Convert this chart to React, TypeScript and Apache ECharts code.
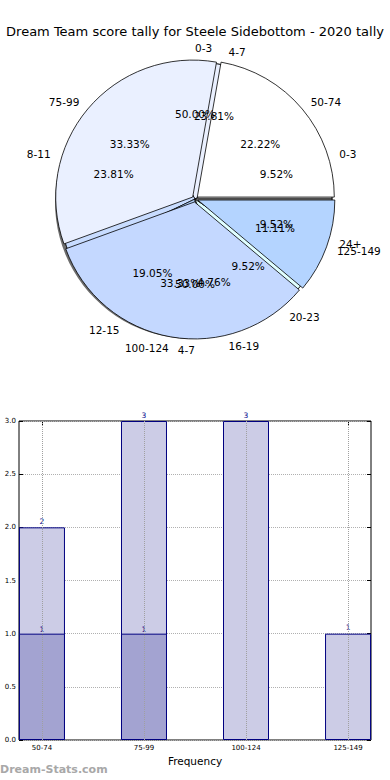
import React, { useEffect, useRef } from 'react';
import * as echarts from 'echarts';

const titleText = 'Dream Team score tally for Steele Sidebottom - 2020 tally';
const scoreCategories = ['50-74', '75-99', '100-124', '125-149'];
const scoreCounts = [2, 3, 3, 1];
const scoreColors = ['#ffffff', '#eaf0ff', '#c4d8ff', '#b4d4ff'];
const metricCategories = ['0-3', '4-7', '8-11', '12-15', '16-19', '20-23', '24+'];
const metricCounts = [2, 5, 5, 4, 1, 2, 2];
const metricColors = ['#d0d0d0', '#eaf0ff', '#c8dcff', '#b4d4ff', '#d4e4ff', '#e0ffff', '#c8c8c8'];
const halfCategories = ['0-3', '4-7'];
const halfCounts = [1, 1];
const halfColors = ['#ffffff', '#eaf0ff'];
const barTotals = [2, 3, 3, 1];
const barFirst = [1, 1];
const yMax = 3;
const yStep = 0.5;

const FONT = 'DejaVu Sans';
const CX = 195;
const CY = 199;
const R = 137;
const EXPLODE = 3;

function pct(v: number, list: number[]) {
  const t = list.reduce((a, b) => a + b, 0);
  return ((v / t) * 100).toFixed(2) + '%';
}

function labelSeries(names: string[], values: number[]) {
  const data = names.map((n, i) => ({ name: n, value: values[i] }));
  const base = {
    type: 'pie',
    center: [CX, CY],
    startAngle: 0,
    clockwise: false,
    silent: true,
    avoidLabelOverlap: false,
    labelLayout: { hideOverlap: false },
    z: 10,
    emphasis: { disabled: true },
    itemStyle: { color: 'rgba(0,0,0,0)', borderWidth: 0 },
  };
  return [
    {
      ...base,
      radius: [0, R],
      data,
      label: {
        show: true,
        position: 'outside',
        formatter: (p: any) => p.name,
        fontSize: 10.5,
        fontFamily: FONT,
        color: '#000',
        distanceToLabelLine: 0,
      },
      labelLine: { show: false, length: 14, length2: 0 },
    },
    {
      ...base,
      radius: [R * 0.2, R],
      data,
      label: {
        show: true,
        position: 'inside',
        formatter: (p: any) => pct(p.value, values),
        fontSize: 10.5,
        fontFamily: FONT,
        color: '#000',
        overflow: 'none',
      },
      labelLine: { show: false },
    },
  ];
}

function drawnPie(values: number[], colors: string[], names: string[]) {
  return {
    type: 'pie',
    center: [CX, CY],
    radius: [0, R],
    startAngle: 0,
    clockwise: false,
    silent: true,
    avoidLabelOverlap: false,
    emphasis: { disabled: true },
    label: { show: false },
    labelLine: { show: false },
    data: names.map((n, i) => ({
      name: n,
      value: values[i],
      itemStyle: { color: colors[i], borderColor: '#000', borderWidth: 0.8 },
    })),
  };
}

function explodedScoreSeries() {
  const total = scoreCounts.reduce((a, b) => a + b, 0);
  let cum = 0;
  return scoreCounts.map((v, k) => {
    const mid = ((cum + v / 2) / total) * 2 * Math.PI;
    cum += v;
    const cx = CX + EXPLODE * Math.cos(mid);
    const cy = CY - EXPLODE * Math.sin(mid);
    return {
      type: 'pie',
      center: [cx, cy],
      radius: [0, R],
      startAngle: 0,
      clockwise: false,
      silent: true,
      avoidLabelOverlap: false,
      emphasis: { disabled: true },
      label: { show: false },
      labelLine: { show: false },
      data: scoreCategories.map((n, i) => ({
        name: n,
        value: scoreCounts[i],
        itemStyle:
          i === k
            ? { color: scoreColors[i], borderColor: '#000', borderWidth: 0.8 }
            : { color: 'rgba(0,0,0,0)', borderWidth: 0 },
      })),
    };
  });
}

export default function App() {
  const ref = useRef<HTMLDivElement>(null);
  useEffect(() => {
    if (!ref.current) return;
    const chart = echarts.init(ref.current, undefined, { renderer: 'svg' });
    const option: any = {
      animation: false,
      backgroundColor: '#fff',
      textStyle: { fontFamily: FONT },
      title: {
        text: titleText,
        left: 'center',
        top: 20,
        textStyle: { fontSize: 13, fontWeight: 'normal', color: '#000', fontFamily: FONT },
      },
      graphic: [
        {
          type: 'text',
          left: 0,
          top: 764,
          style: { text: 'Dream-Stats.com', fontSize: 11, fontWeight: 'bold', fill: '#a8a8a8', fontFamily: FONT },
        },
      ],
      grid: {
        left: 19,
        top: 421,
        width: 352,
        height: 319,
        show: true,
        borderColor: '#000',
        borderWidth: 1,
        backgroundColor: 'rgba(0,0,0,0)',
      },
      xAxis: [
        {
          type: 'value',
          min: -0.225,
          max: 3.225,
          axisLine: { show: false, onZero: false },
          splitLine: { show: false },
          axisTick: { show: true, inside: true, length: 4, customValues: [0, 1, 2, 3], lineStyle: { color: '#000' } },
          axisLabel: {
            customValues: [0, 1, 2, 3],
            formatter: (v: number) => scoreCategories[Math.round(v)] ?? '',
            fontSize: 7,
            color: '#000',
            margin: 4,
          },
          name: 'Frequency',
          nameLocation: 'middle',
          nameGap: 15,
          nameTextStyle: { fontSize: 10.5, color: '#000' },
        },
        {
          type: 'value',
          position: 'top',
          min: -0.225,
          max: 3.225,
          axisLine: { show: false, onZero: false },
          splitLine: { show: false },
          axisTick: { show: true, inside: true, length: 4, customValues: [0, 1, 2, 3], lineStyle: { color: '#000' } },
          axisLabel: { show: false },
        },
      ],
      yAxis: [
        {
          type: 'value',
          min: 0,
          max: yMax,
          interval: yStep,
          axisLine: { show: false, onZero: false },
          axisTick: { show: true, inside: true, length: 4, lineStyle: { color: '#000' } },
          axisLabel: { formatter: (v: number) => v.toFixed(1), fontSize: 7, color: '#000', margin: 3 },
          splitLine: { show: true, lineStyle: { type: 'dotted', color: '#b0b0b0', width: 1 } },
        },
        {
          type: 'value',
          position: 'right',
          min: 0,
          max: yMax,
          interval: yStep,
          axisLine: { show: false, onZero: false },
          axisTick: { show: true, inside: true, length: 4, lineStyle: { color: '#000' } },
          axisLabel: { show: false },
          splitLine: { show: false },
        },
      ],
      series: [
        {
          type: 'pie',
          center: [CX - 3, CY + 3],
          radius: [0, R],
          silent: true,
          emphasis: { disabled: true },
          label: { show: false },
          labelLine: { show: false },
          data: [{ value: 1, itemStyle: { color: 'rgba(60,60,60,0.75)' } }],
        },
        drawnPie(halfCounts, halfColors, halfCategories),
        drawnPie(metricCounts, metricColors, metricCategories),
        ...explodedScoreSeries(),
        ...labelSeries(halfCategories, halfCounts),
        ...labelSeries(metricCategories, metricCounts),
        ...labelSeries(scoreCategories, scoreCounts),
        {
          type: 'bar',
          xAxisIndex: 0,
          yAxisIndex: 0,
          barWidth: 46,
          barGap: '-100%',
          silent: true,
          data: barTotals.map((v, i) => [i, v]),
          itemStyle: { color: '#cccce6', borderColor: '#000080', borderWidth: 1 },
          label: { show: true, position: 'top', distance: 2, fontSize: 7.5, color: '#00008b' },
          markLine: {
            silent: true,
            symbol: ['none', 'none'],
            label: { show: false },
            lineStyle: { type: 'dotted', color: '#a0a0a0', width: 1 },
            data: [0, 1, 2, 3].map((x) => ({ xAxis: x })),
          },
        },
        {
          type: 'bar',
          xAxisIndex: 0,
          yAxisIndex: 0,
          barWidth: 46,
          barGap: '-100%',
          silent: true,
          data: barFirst.map((v, i) => [i, v]),
          itemStyle: { color: '#a3a3d1', borderColor: '#000080', borderWidth: 1 },
          label: { show: true, position: 'top', distance: 0, fontSize: 7.5, color: '#00008b' },
        },
      ],
    };
    chart.setOption(option);
    return () => chart.dispose();
  }, []);
  return (
    <div
      ref={ref}
      style={{ position: 'fixed', left: 0, top: 0, width: 390, height: 780, background: '#fff' }}
    />
  );
}
